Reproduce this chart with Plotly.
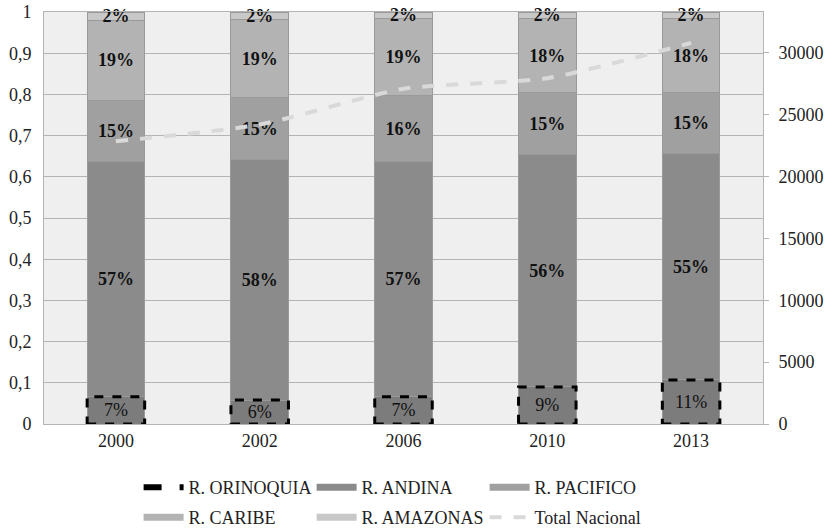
import plotly.graph_objects as go

years = ["2000", "2002", "2006", "2010", "2013"]
orinoquia = [0.066, 0.058, 0.066, 0.090, 0.107]
andina = [0.571, 0.584, 0.571, 0.564, 0.549]
pacifico = [0.149, 0.150, 0.160, 0.150, 0.148]
caribe = [0.194, 0.190, 0.187, 0.180, 0.180]
amazonas = [0.020, 0.018, 0.016, 0.016, 0.016]
total_nacional = [22850, 24200, 27100, 27950, 30800]

left_ticks = [0, 0.1, 0.2, 0.3, 0.4, 0.5, 0.6, 0.7, 0.8, 0.9, 1]
right_ticks = [0, 5000, 10000, 15000, 20000, 25000, 30000]

FONT = "Liberation Serif"
series = [
    ("R. ORINOQUIA", orinoquia, "#7c7c7c", False),
    ("R. ANDINA", andina, "#8b8b8b", True),
    ("R. PACIFICO", pacifico, "#a0a0a0", True),
    ("R. CARIBE", caribe, "#b3b3b3", True),
    ("R. AMAZONAS", amazonas, "#c8c8c8", True),
]

fig = go.Figure()
for name, vals, col, bold in series:
    tmpl = "<b>%{y:.0%}</b>" if bold else "%{y:.0%}"
    fig.add_trace(go.Bar(
        x=years, y=vals, name=name, showlegend=False,
        marker=dict(color=col, line=dict(color="#9a9a9a", width=1)),
        texttemplate=tmpl, textposition="inside", insidetextanchor="middle",
        textangle=0, constraintext="none", cliponaxis=False,
        textfont=dict(family=FONT, size=18, color="#111111"),
        hoverinfo="skip",
    ))

# dashed border around the Orinoquia segments
for i, v in enumerate(orinoquia):
    fig.add_shape(type="rect", xref="x", yref="y",
                  x0=i - 0.2, x1=i + 0.2, y0=0, y1=v,
                  line=dict(color="black", width=3, dash="dash"))

fig.add_trace(go.Scatter(
    x=years, y=total_nacional, name="Total Nacional", yaxis="y2",
    mode="lines", line=dict(color="#d9d9d9", width=4, dash="dash", shape="spline", smoothing=0.6),
    showlegend=False, hoverinfo="skip",
))

# legend entries (two rows, three per row)
fig.add_trace(go.Scatter(x=[None], y=[None], mode="lines", name="R. ORINOQUIA",
                         legend="legend", line=dict(color="black", width=6, dash="dash")))
for name, vals, col, bold in series[1:3]:
    fig.add_trace(go.Scatter(x=[None], y=[None], mode="lines", name=name,
                             legend="legend", line=dict(color=col, width=7)))
for name, vals, col, bold in series[3:]:
    fig.add_trace(go.Scatter(x=[None], y=[None], mode="lines", name=name,
                             legend="legend2", line=dict(color=col, width=7)))
fig.add_trace(go.Scatter(x=[None], y=[None], mode="lines", name="Total Nacional",
                         legend="legend2", line=dict(color="#d9d9d9", width=4, dash="dash")))

legend_common = dict(orientation="h", xref="container", x=0.168, xanchor="left",
                     yref="container", yanchor="top", traceorder="normal",
                     entrywidth=118, entrywidthmode="pixels", itemwidth=40,
                     font=dict(family=FONT, size=18), bgcolor="rgba(0,0,0,0)")

fig.update_layout(
    width=825, height=530,
    margin=dict(l=44, r=62, t=12, b=106, autoexpand=False),
    barmode="stack", bargap=0.6,
    separators=", ",
    paper_bgcolor="white", plot_bgcolor="#efefef",
    font=dict(family=FONT, size=18, color="#222222"),
    uniformtext=dict(minsize=18, mode="show"),
    xaxis=dict(type="category", showgrid=False, showline=True, linecolor="#b4b4b4",
               mirror=True, ticks="", tickfont=dict(size=18)),
    yaxis=dict(range=[0, 1], tickvals=left_ticks, showgrid=True, gridcolor="#b4b4b4",
               gridwidth=1, showline=True, linecolor="#b4b4b4", mirror=True,
               ticks="", zeroline=False, tickfont=dict(size=18), ticklabelstandoff=8),
    yaxis2=dict(range=[0, 33300], tickvals=right_ticks, tickformat="d", overlaying="y",
                side="right", showgrid=False, zeroline=False, showline=True,
                linecolor="#b4b4b4", ticks="outside", ticklen=5, tickcolor="#b4b4b4",
                tickfont=dict(size=18), ticklabelstandoff=6),
    legend=dict(legend_common, y=0.115),
    legend2=dict(legend_common, y=0.0585),
)

fig.write_html("out.html", config={"displayModeBar": False},
               post_script="document.body.style.margin='0px';")
